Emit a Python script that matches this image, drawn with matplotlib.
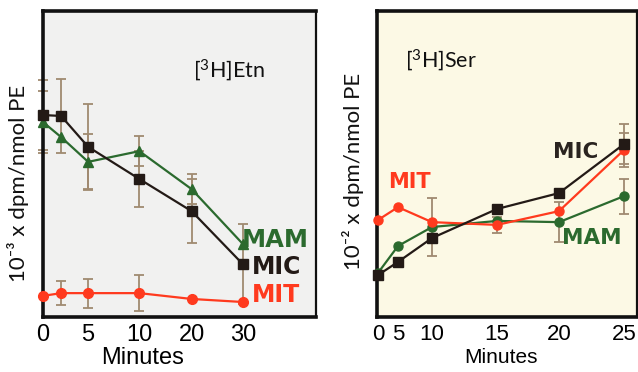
import numpy as np
import matplotlib
matplotlib.use("Agg")
import matplotlib.pyplot as plt

plt.rcParams["mathtext.fontset"] = "custom"
plt.rcParams["mathtext.rm"] = "Lato"
plt.rcParams["mathtext.it"] = "Lato"
plt.rcParams["mathtext.bf"] = "Lato:bold"

# ---------------- data (arbitrary units, no y ticks in original) ----------------
etn_minutes = [0, 2, 5, 10, 20, 30]
etn_mic = [66.0, 65.7, 55.6, 45.1, 34.6, 17.3]
etn_mam = [63.7, 58.8, 50.7, 54.2, 41.8, 23.9]
etn_mit = [6.9, 7.8, 7.8, 7.8, 5.9, 4.9]
etn_mic_err = [11.4, 12.0, 14.0, 9.0, 10.5, 13.0]
etn_mam_err = [10.0, 0.0, 9.0, 5.0, 5.0, 0.0]
etn_mit_err = [0.0, 4.0, 4.7, 6.0, 0.0, 0.0]
etn_ticks = [0, 5, 10, 20, 30]

ser_minutes = [0, 5, 10, 15, 20, 25]
ser_mic = [13.7, 18.0, 25.8, 35.3, 40.5, 56.5]
ser_mit = [31.7, 35.9, 31.0, 30.1, 34.6, 54.6]
ser_mam = [14.4, 23.2, 29.4, 31.4, 31.0, 39.5]
ser_mic_err = [0.0, 0.0, 0.0, 0.0, 0.0, 6.5]
ser_mit_err = [0.0, 0.0, 0.0, 2.6, 0.0, 5.5]
ser_mam_err = [0.0, 0.0, 9.5, 0.0, 6.5, 5.7]
ser_ticks = [0, 5, 10, 15, 20, 25]

# ---------------- style ----------------
C_MIC = "#231a16"
C_MAM = "#2b6a2e"
C_MIT = "#ff3a1e"
C_ERR = "#a08a70"
TICK_FONT = "Liberation Sans"
SERIES_FONT = "DejaVu Sans"
LABEL_FONT = ["Lato", "DejaVu Sans"]

# non-uniform time axes of the original (minutes -> relative position)
etn_knots_min = [-10, 0, 5, 10, 20, 30, 44.3]
etn_knots_pos = [-90, 0, 45, 96, 148, 199, 272]
ser_knots_min = [-5, 0, 5, 10, 15, 20, 25, 26.1]
ser_knots_pos = [-19, 1, 21, 55, 120, 182, 247, 260]


def set_scale(ax, kmin, kpos):
    fwd = lambda x: np.interp(x, kmin, kpos)
    inv = lambda p: np.interp(p, kpos, kmin)
    ax.set_xscale("function", functions=(fwd, inv))


W, H = 638, 372
fig = plt.figure(figsize=(W / 100, H / 100), dpi=100)
fig.patch.set_facecolor("white")

axL = fig.add_axes([43 / W, 1 - 317 / H, (316 - 43) / W, 306 / H])
axR = fig.add_axes([377 / W, 1 - 317 / H, (637 - 377) / W, 306 / H])

set_scale(axL, etn_knots_min, etn_knots_pos)
set_scale(axR, ser_knots_min, ser_knots_pos)
axL.set_xlim(0, 44.3)
axR.set_xlim(-0.25, 26.1)
for ax in (axL, axR):
    ax.set_ylim(0, 100)
    ax.set_yticks([])
    ax.tick_params(axis="x", length=0, pad=5.0)
    ax.spines["left"].set_linewidth(2.6)
    ax.spines["top"].set_linewidth(2.6)
    ax.spines["bottom"].set_linewidth(2.6)
    ax.spines["right"].set_linewidth(1.6)
    for s in ax.spines.values():
        s.set_color("#111111")

axL.set_facecolor("#f1f1f0")
axR.set_facecolor("#fcf9e5")
axL.set_xticks(etn_ticks)
axL.set_xticklabels([str(t) for t in etn_ticks], fontsize=17, family=TICK_FONT)
axR.set_xticks(ser_ticks)
axR.set_xticklabels([str(t) for t in ser_ticks], fontsize=16, family=TICK_FONT)

axL.set_xlabel("Minutes", fontsize=17, family=TICK_FONT)
axL.xaxis.set_label_coords(0.363, -0.098)
axR.set_xlabel("Minutes", fontsize=15, family=TICK_FONT)
axR.xaxis.set_label_coords(0.477, -0.102)


def draw(ax, x, y, err, color, marker, ms):
    x = np.asarray(x, float)
    y = np.asarray(y, float)
    err = np.asarray(err, float)
    m = err > 0
    if m.any():
        ax.errorbar(x[m], y[m], yerr=err[m], fmt="none", ecolor=C_ERR,
                    elinewidth=1.3, capsize=3.5, capthick=1.3, zorder=1,
                    clip_on=False)
    ax.plot(x, y, color=color, lw=1.6, marker=marker, ms=ms, mfc=color,
            mec=color, zorder=3, clip_on=False)


draw(axL, etn_minutes, etn_mam, etn_mam_err, C_MAM, "^", 7)
draw(axL, etn_minutes, etn_mic, etn_mic_err, C_MIC, "s", 6.5)
draw(axL, etn_minutes, etn_mit, etn_mit_err, C_MIT, "o", 7)

draw(axR, ser_minutes, ser_mam, ser_mam_err, C_MAM, "o", 6.5)
draw(axR, ser_minutes, ser_mit, ser_mit_err, C_MIT, "o", 6.5)
draw(axR, ser_minutes, ser_mic, ser_mic_err, C_MIC, "s", 6.5)

# panel annotations
axL.text(0.68, 0.807, "[$^{3}$H]Etn", transform=axL.transAxes, ha="center",
         va="center", fontsize=15.5, family=LABEL_FONT, color="#111111")
axL.text(0.729, 0.252, "MAM", transform=axL.transAxes, ha="left", va="center",
         fontsize=17.5, fontweight="bold", family=SERIES_FONT, color=C_MAM)
axL.text(0.766, 0.163, "MIC", transform=axL.transAxes, ha="left", va="center",
         fontsize=17, fontweight="bold", family=SERIES_FONT, color=C_MIC)
axL.text(0.766, 0.072, "MIT", transform=axL.transAxes, ha="left", va="center",
         fontsize=17, fontweight="bold", family=SERIES_FONT, color=C_MIT)

axR.text(0.107, 0.84, "[$^{3}$H]Ser", transform=axR.transAxes, ha="left",
         va="center", fontsize=15.5, family=LABEL_FONT, color="#111111")
axR.text(0.042, 0.441, "MIT", transform=axR.transAxes, ha="left", va="center",
         fontsize=15, fontweight="bold", family=SERIES_FONT, color=C_MIT)
axR.text(0.677, 0.539, "MIC", transform=axR.transAxes, ha="left", va="center",
         fontsize=15.5, fontweight="bold", family=SERIES_FONT, color="#2a2420")
axR.text(0.712, 0.258, "MAM", transform=axR.transAxes, ha="left", va="center",
         fontsize=15.5, fontweight="bold", family=SERIES_FONT, color=C_MAM)

# y labels
fig.text(18 / W, 1 - 183 / H, "10⁻³ x dpm/nmol PE", rotation=90, ha="center",
         va="center", fontsize=16, family=LABEL_FONT, color="#111111")
fig.text(353 / W, 1 - 171 / H, "10⁻² x dpm/nmol PE", rotation=90, ha="center",
         va="center", fontsize=16, family=LABEL_FONT, color="#111111")

fig.savefig("out.png", dpi=100, facecolor="white")
